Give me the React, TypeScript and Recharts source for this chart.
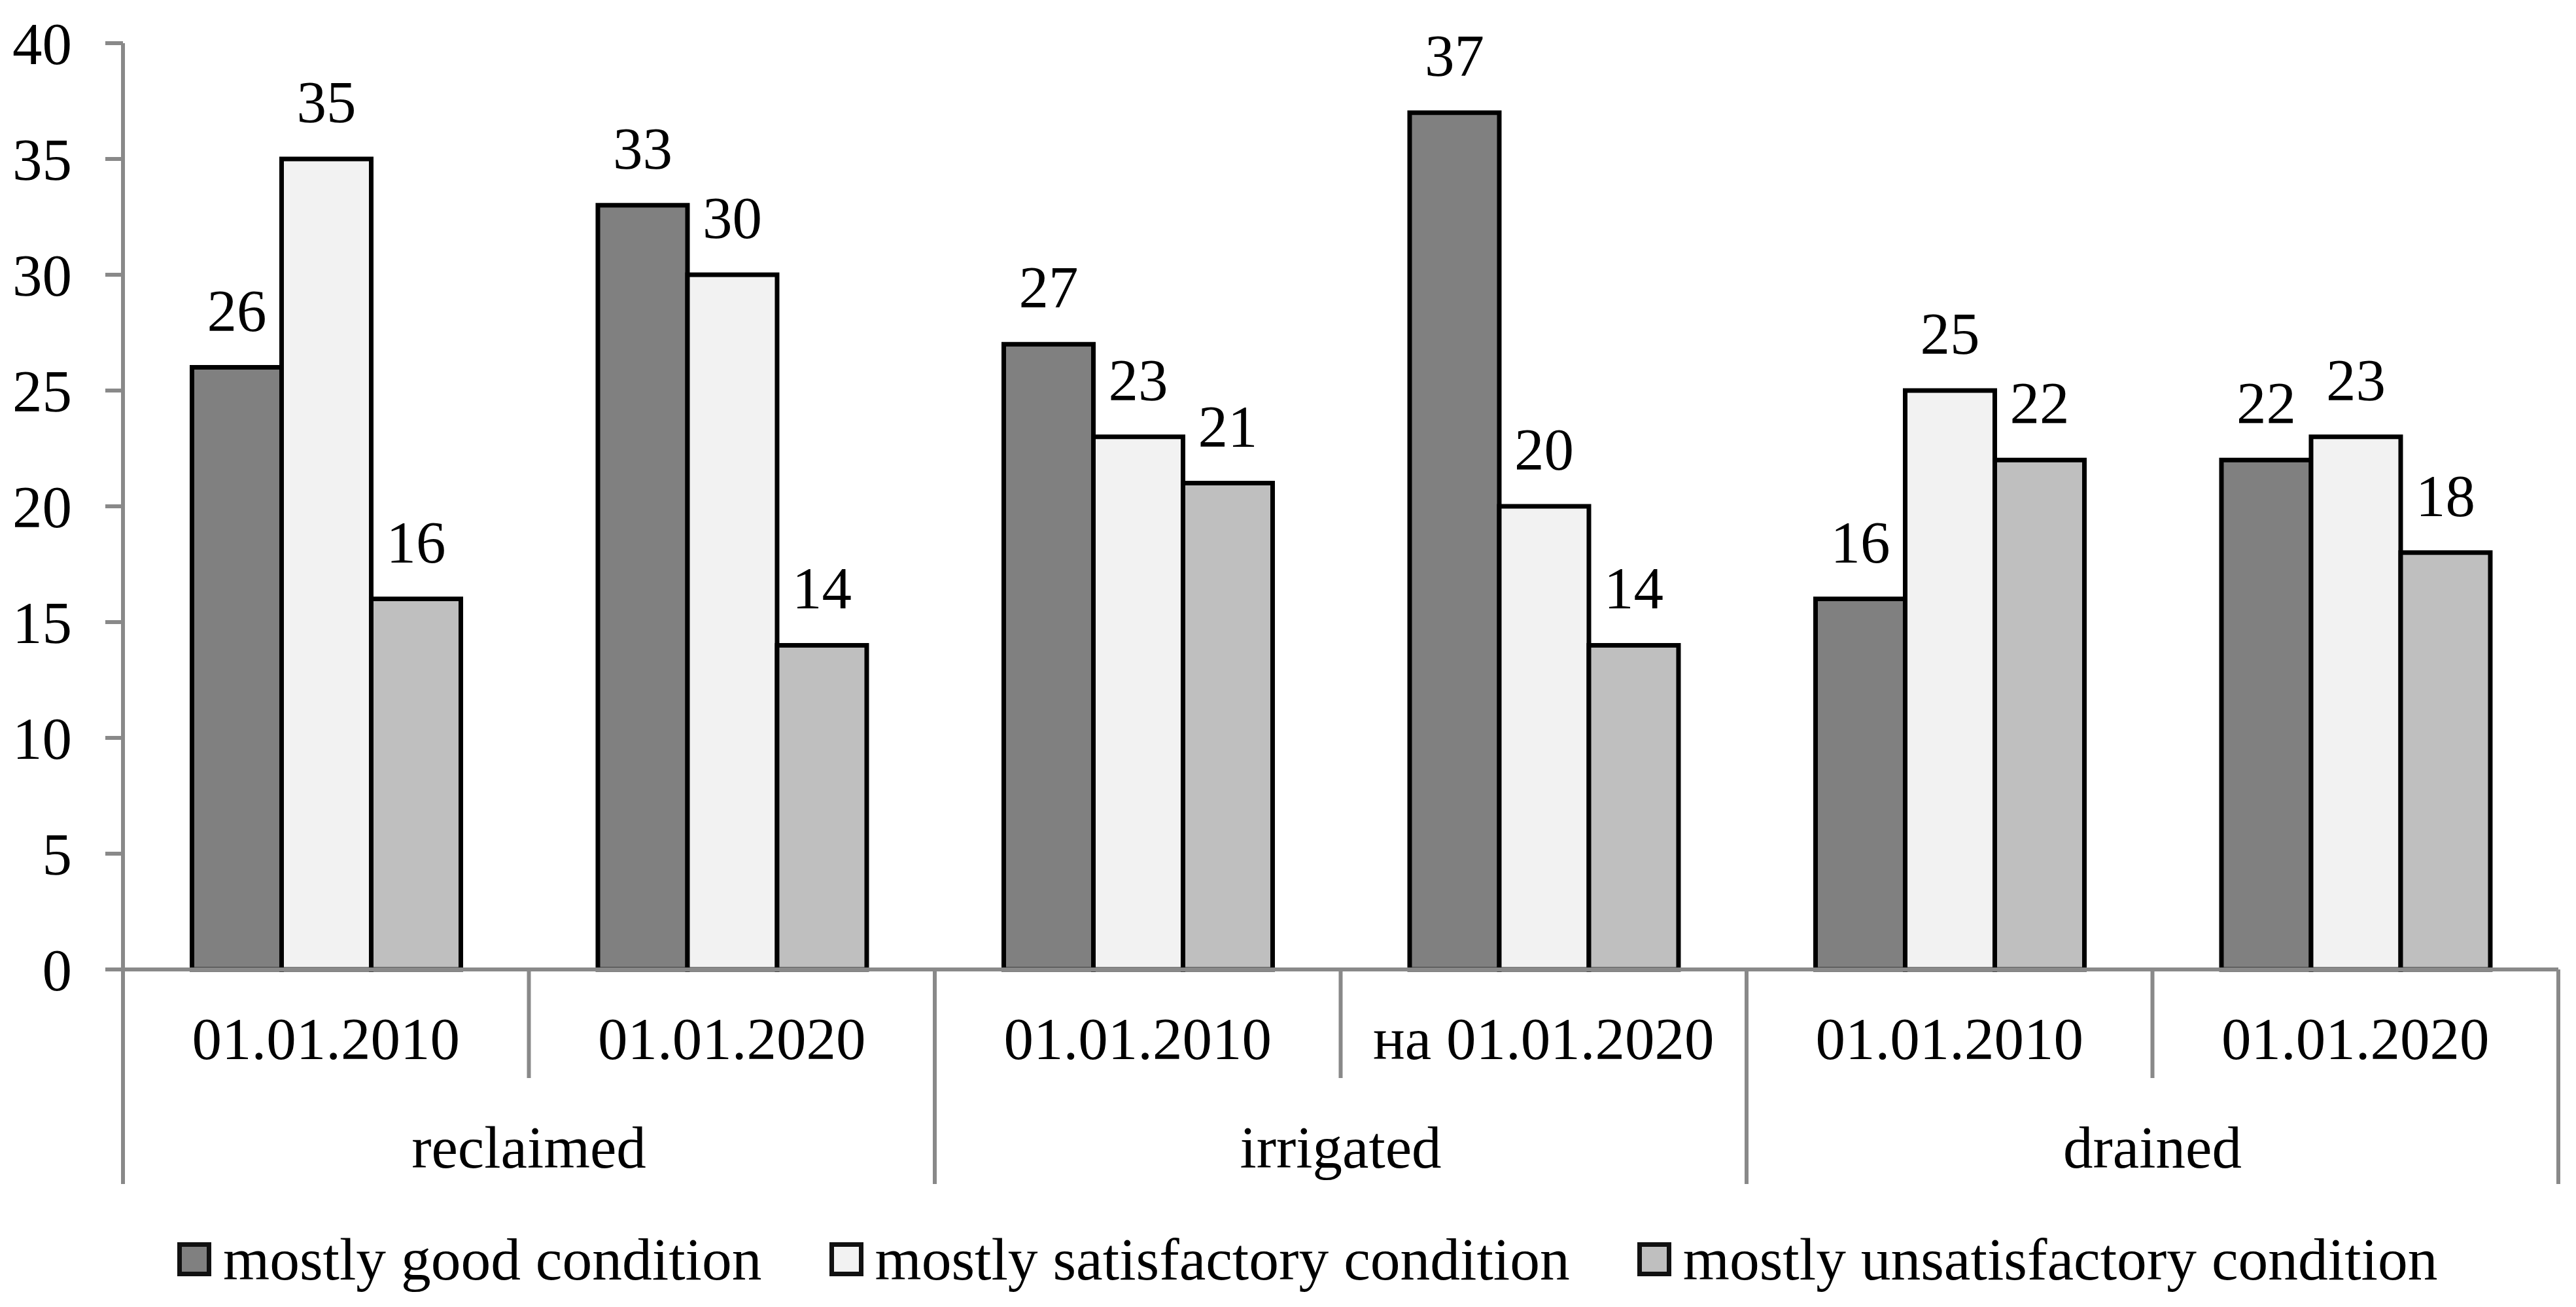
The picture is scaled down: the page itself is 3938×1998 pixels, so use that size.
import { BarChart, Bar, XAxis, YAxis, LabelList, Legend } from "recharts";

// categories (two-level x axis)
const dates = ["01.01.2010", "01.01.2020", "01.01.2010", "на 01.01.2020", "01.01.2010", "01.01.2020"];
const groups = ["reclaimed", "reclaimed", "irrigated", "irrigated", "drained", "drained"];

// series values
const good = [26, 33, 27, 37, 16, 22];
const satisfactory = [35, 30, 23, 20, 25, 23];
const unsatisfactory = [16, 14, 21, 14, 22, 18];

const seriesKeys = ["good", "satisfactory", "unsatisfactory"];
const seriesNames = ["mostly good condition", "mostly satisfactory condition", "mostly unsatisfactory condition"];
const seriesColors = ["#808080", "#f2f2f2", "#bfbfbf"];

const yTicks = [0, 5, 10, 15, 20, 25, 30, 35, 40];

const data = dates.map((d, i) => ({
  date: d,
  group: groups[i],
  good: good[i],
  satisfactory: satisfactory[i],
  unsatisfactory: unsatisfactory[i],
}));

const W = 3938;
const H = 1998;
const margin = { top: 66, right: 27, left: 0, bottom: 188 };
const yAxisWidth = 188;
const plotLeft = margin.left + yAxisWidth;
const plotRight = W - margin.right;
const bandW = (plotRight - plotLeft) / dates.length;

const font = "'Liberation Serif', 'Times New Roman', serif";
const fs = 91;
const axisGray = "#898989";
const dateRowH = 166;
const groupRowH = 162;

function DateTick(props: any) {
  const { x, y, payload, index } = props;
  const left = x - bandW / 2;
  const isGroupEdge = index % 2 === 0;
  return (
    <g>
      <line x1={left} x2={left} y1={y} y2={y + (isGroupEdge ? dateRowH + groupRowH : dateRowH)} stroke={axisGray} strokeWidth={6} />
      {index === dates.length - 1 && (
        <line x1={x + bandW / 2} x2={x + bandW / 2} y1={y} y2={y + dateRowH + groupRowH} stroke={axisGray} strokeWidth={6} />
      )}
      <text x={x} y={y + 137} textAnchor="middle" fontSize={fs} fontFamily={font} fill="#000">
        {payload.value}
      </text>
    </g>
  );
}

function GroupTick(props: any) {
  const { x, y, payload, index } = props;
  if (index % 2 !== 0) return <g />;
  return (
    <text x={x + bandW / 2} y={y + 137} textAnchor="middle" fontSize={fs} fontFamily={font} fill="#000">
      {payload.value}
    </text>
  );
}

function LegendContent() {
  return (
    <div style={{ display: "flex", alignItems: "center", paddingLeft: 271, height: 100, fontFamily: font, fontSize: 91.5, lineHeight: "100px", color: "#000" }}>
      {seriesNames.map((name, i) => (
        <div key={name} style={{ display: "flex", alignItems: "center", marginRight: 103 }}>
          <div style={{ width: 52, height: 52, boxSizing: "border-box", border: "7px solid #111", background: seriesColors[i], marginRight: 18 }} />
          <span style={{ whiteSpace: "nowrap" }}>{name}</span>
        </div>
      ))}
    </div>
  );
}

export default function App() {
  return (
    <div style={{ position: "absolute", left: 0, top: 0, width: W, height: H, background: "#fff" }}>
      <BarChart width={W} height={H} data={data} margin={margin} barCategoryGap="17%" barGap={0}>
        <XAxis
          dataKey="date"
          height={dateRowH}
          axisLine={{ stroke: axisGray, strokeWidth: 6 }}
          tickLine={false}
          tickSize={0}
          tickMargin={0}
          interval={0}
          tick={<DateTick />}
        />
        <XAxis
          xAxisId="grp"
          dataKey="group"
          height={groupRowH}
          axisLine={false}
          tickLine={false}
          tickSize={0}
          tickMargin={0}
          interval={0}
          tick={<GroupTick />}
        />
        <YAxis
          width={yAxisWidth}
          domain={[0, 40]}
          ticks={yTicks}
          interval={0}
          axisLine={{ stroke: axisGray, strokeWidth: 6 }}
          tickLine={{ stroke: axisGray, strokeWidth: 6 }}
          tickSize={27}
          tickMargin={51}
          tick={{ fontSize: fs, fontFamily: font, fill: "#000" }}
        />
        <Legend
          layout="horizontal"
          verticalAlign="middle"
          align="center"
          wrapperStyle={{ top: 1875, left: 0, width: W }}
          content={<LegendContent />}
        />
        {seriesKeys.map((key, i) => (
          <Bar key={key} dataKey={key} name={seriesNames[i]} fill={seriesColors[i]} stroke="#000" strokeWidth={7} isAnimationActive={false}>
            <LabelList dataKey={key} position="top" offset={56} fill="#000" fontSize={fs} fontFamily={font} />
          </Bar>
        ))}
      </BarChart>
    </div>
  );
}
